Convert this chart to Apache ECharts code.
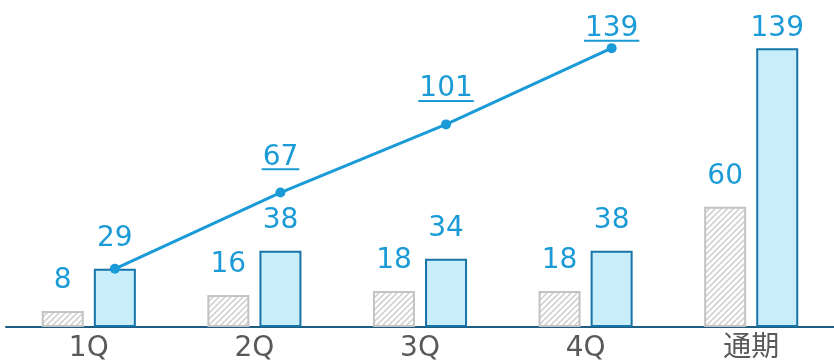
<!DOCTYPE html>
<html><head><meta charset="utf-8">
<script src="https://cdn.jsdelivr.net/npm/echarts@6/dist/echarts.min.js"></script>
<style>html,body{margin:0;padding:0;background:#fff}#c{width:834px;height:363px}</style>
</head><body><div id="c"></div>
<script>
const categories = ['1Q', '2Q', '3Q', '4Q', '通期'];
const prevValues = [8, 16, 18, 18, 60];
const currValues = [29, 38, 34, 38, 139];
const cumulativeValues = [29, 67, 101, 139];

const BLUE = '#1a9bd7';
const FONT_FAMILY = '"DejaVu Sans", "Noto Sans CJK JP", sans-serif';
const LABEL_FONT = '28px "DejaVu Sans"';
const BAR_W = 42, BAR_GAP = 0.24;
const LINE_OFFSET = (BAR_W + BAR_W * BAR_GAP) / 2; // center of the second bar in each category

// hatch pattern
const pc = document.createElement('canvas');
pc.width = 6; pc.height = 6;
const pctx = pc.getContext('2d');
pctx.fillStyle = '#ffffff'; pctx.fillRect(0, 0, 6, 6);
pctx.strokeStyle = '#d2d2d2'; pctx.lineWidth = 1.6;
pctx.beginPath();
pctx.moveTo(-1, 7); pctx.lineTo(7, -1);
pctx.moveTo(-4, 4); pctx.lineTo(4, -4);
pctx.moveTo(2, 10); pctx.lineTo(10, 2);
pctx.stroke();

const mc = document.createElement('canvas').getContext('2d');
mc.font = LABEL_FONT;

const chart = echarts.init(document.getElementById('c'), null, {renderer: 'canvas'});
const yMax = 163;
const blueData = currValues.map((v) => v > 120 ? {value: v, label: {distance: 5}} : v);

chart.setOption({
  animation: false,
  grid: {left: 6, right: 0, top: 0, bottom: 36},
  xAxis: {type: 'category', data: categories,
     axisLine: {lineStyle: {color: '#1f5c80', width: 2}},
     axisTick: {show: false},
     axisLabel: {color: '#595959', fontSize: 28, fontFamily: FONT_FAMILY, margin: 8}},
  yAxis: {type: 'value', min: 0, max: yMax, show: false},
  series: [
    {type: 'bar', data: prevValues, barWidth: BAR_W, barGap: (BAR_GAP * 100) + '%',
     itemStyle: {color: {image: pc, repeat: 'repeat'}, borderColor: '#c3c3c3', borderWidth: 2},
     label: {show: true, position: 'top', distance: 16, color: BLUE, fontSize: 28, fontFamily: FONT_FAMILY}},
    {type: 'bar', data: blueData, barWidth: BAR_W,
     itemStyle: {color: '#c8eefc', borderColor: '#1774a8', borderWidth: 2},
     label: {show: true, position: 'top', distance: 16, color: BLUE, fontSize: 28, fontFamily: FONT_FAMILY}},
    {type: 'custom', z: 6,
     data: cumulativeValues.map((v, i) => [i, v]),
     encode: {x: 0, y: 1},
     renderItem: function (params, api) {
       const idx = api.value(0), v = api.value(1);
       const p = api.coord([idx, v]);
       const pt = [p[0] + LINE_OFFSET, p[1]];
       const children = [];
       if (idx > 0) {
         const q = api.coord([idx - 1, cumulativeValues[idx - 1]]);
         children.push({type: 'line', z2: 1, shape: {x1: q[0] + LINE_OFFSET, y1: q[1], x2: pt[0], y2: pt[1]},
                        style: {stroke: BLUE, lineWidth: 3}});
       }
       children.push({type: 'circle', z2: 5, shape: {cx: pt[0], cy: pt[1], r: 5}, style: {fill: BLUE}});
       if (idx > 0) { // first cumulative equals the 1Q bar label
         const txt = String(v);
         const w = mc.measureText(txt).width;
         const bottom = Math.max(pt[1] - 27.3, 36.7);
         children.push({type: 'text', z2: 6, style: {text: txt, x: pt[0], y: bottom + 6, align: 'center', verticalAlign: 'bottom', font: LABEL_FONT, fill: BLUE}});
         children.push({type: 'line', z2: 6, shape: {x1: pt[0] - w / 2 - 1, y1: bottom + 4, x2: pt[0] + w / 2 + 1, y2: bottom + 4}, style: {stroke: BLUE, lineWidth: 2}});
       }
       return {type: 'group', children: children};
     }}
  ]
});
</script></body></html>
